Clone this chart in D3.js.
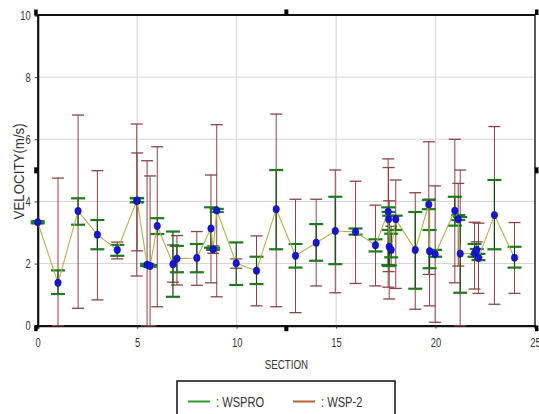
<!DOCTYPE html>
<html><head><meta charset="utf-8">
<script src="https://cdn.jsdelivr.net/npm/d3@7"></script>
<style>
body{margin:0;background:#fff;}
svg{display:block;}
text{font-family:"Liberation Sans",Arial,sans-serif;fill:#333;}
</style></head>
<body><svg id="c" width="539" height="414"></svg>
<script>
const sections = [0.0,1.02,2.03,3.0,4.0,4.98,5.0,5.5,5.65,6.01,6.8,7.0,8.0,8.71,8.82,9.0,9.98,11.0,11.99,12.96,14.0,14.96,15.98,16.98,17.62,17.64,17.67,17.77,18.0,18.98,19.66,19.70,19.98,20.97,21.14,21.24,21.96,22.07,22.16,22.96,23.97];
const velocity = [3.33,1.38,3.69,2.93,2.44,4.01,4.03,1.96,1.92,3.21,1.98,2.16,2.18,3.13,2.46,3.71,2.01,1.77,3.75,2.25,2.67,3.05,3.02,2.59,3.67,3.43,2.54,2.44,3.43,2.44,3.90,2.40,2.30,3.70,3.43,2.32,2.33,2.44,2.18,3.56,2.19];
const wsproLow  = [3.30,1.02,3.25,2.46,2.25,3.97,3.98,1.92,1.90,2.95,0.93,1.72,1.72,2.51,2.44,3.66,1.31,1.34,2.46,1.87,2.09,1.98,2.93,2.39,1.95,3.08,1.92,2.20,3.08,1.19,3.75,1.85,2.22,3.22,3.40,1.06,2.22,2.31,2.11,2.46,1.87];
const wsproHigh = [3.36,1.78,4.10,3.40,2.60,4.11,4.10,1.99,1.95,3.46,3.03,2.57,2.63,3.81,2.51,3.76,2.68,2.22,5.01,2.63,3.27,4.15,3.13,2.78,3.81,3.66,3.54,2.96,3.54,3.66,4.05,3.08,2.44,4.15,3.56,3.50,2.63,2.47,2.31,4.69,2.54];
const wsp2Low   = [3.28,0.00,0.56,0.83,2.15,1.60,2.41,0.00,0.00,0.61,1.40,1.31,1.30,1.38,2.33,0.93,1.85,0.64,0.61,0.42,1.28,1.06,1.36,1.28,1.24,1.74,0.86,1.95,1.20,0.53,1.65,0.64,0.11,1.38,1.92,0.00,1.18,2.20,1.04,0.69,1.04];
const wsp2High  = [3.38,4.75,6.78,4.99,2.69,6.49,5.56,5.31,4.82,5.76,2.60,2.90,3.03,4.85,2.57,6.47,2.15,2.89,6.81,4.07,4.07,5.01,4.65,3.88,5.37,5.09,4.02,3.20,4.69,4.28,5.92,4.07,4.50,6.00,4.58,5.01,3.33,2.70,3.30,6.41,3.32];
const xTicks = [0,5,10,15,20,25];
const yTicks = [0,2,4,6,8,10];
const xTitle = "SECTION";
const yTitle = "VELOCITY(m/s)";
const legendLabels = [": WSPRO", ": WSP-2"];
const legendColors = ["#2a9a2a", "#b8662e"];

const pts = sections.map((s,i)=>({s, v:velocity[i], gl:wsproLow[i], gh:wsproHigh[i], bl:wsp2Low[i], bh:wsp2High[i]}));

const svg = d3.select("#c");
const L=37.7, R=535, T=15, B=325.7;
const x = d3.scaleLinear().domain([0,25]).range([L,R]);
const y = d3.scaleLinear().domain([0,10]).range([B,T]);

function narrow(sel, f){
  sel.each(function(){
    const n=this.getComputedTextLength();
    d3.select(this).attr("textLength", n*f).attr("lengthAdjust","spacingAndGlyphs");
  });
}

// grid
svg.append("g").selectAll("line").data(xTicks.slice(1,-1)).join("line")
  .attr("x1",d=>x(d)).attr("x2",d=>x(d)).attr("y1",T).attr("y2",B)
  .attr("stroke","#d4d4d4").attr("stroke-width",1);
svg.append("g").selectAll("line").data(yTicks.slice(1,-1)).join("line")
  .attr("x1",L).attr("x2",R).attr("y1",d=>y(d)).attr("y2",d=>y(d))
  .attr("stroke","#d4d4d4").attr("stroke-width",1);

// axes
const xAxis = svg.append("g").attr("transform",`translate(0,${B})`)
  .call(d3.axisBottom(x).tickValues(xTicks).tickSize(3).tickPadding(9).tickFormat(d3.format("d")));
const yAxis = svg.append("g").attr("transform",`translate(${L},0)`)
  .call(d3.axisLeft(y).tickValues(yTicks).tickSize(3).tickPadding(4).tickFormat(d3.format("d")));
[xAxis,yAxis].forEach(g=>{
  g.select(".domain").attr("stroke","#111").attr("stroke-width",2.2);
  g.selectAll(".tick line").attr("stroke","#333");
  g.selectAll(".tick text").attr("font-size",12.5).attr("fill","#333")
   .attr("font-family",'"Liberation Sans",Arial,sans-serif');
});
narrow(xAxis.selectAll(".tick text"),0.75);
narrow(yAxis.selectAll(".tick text"),0.75);
// top and right frame
svg.append("line").attr("x1",L).attr("x2",R).attr("y1",T).attr("y2",T).attr("stroke","#111").attr("stroke-width",2.2);
svg.append("line").attr("x1",R).attr("x2",R).attr("y1",T).attr("y2",B).attr("stroke","#222").attr("stroke-width",1.5);

// handles
const handles = [[L,T,-1,-1],[(L+R)/2,T,0,-1],[R,T,1,-1],[L,(T+B)/2,-1,0],[R,(T+B)/2,1,0],[L,B,-1,1],[(L+R)/2,B,0,1],[R,B,1,1]];
svg.append("g").selectAll("rect").data(handles).join("rect")
  .attr("x",d=>d[2]<0?d[0]-3.5:(d[2]>0?d[0]:d[0]-2))
  .attr("y",d=>d[3]<0?d[1]-5.5:(d[3]>0?d[1]:d[1]-3))
  .attr("width",d=>d[2]===0?4:3.5).attr("height",d=>d[3]===0?6:5.5)
  .attr("fill","#000");

const cap=6;
// WSP-2 bars
const gb = svg.append("g").attr("stroke","#8a4444").attr("stroke-width",1).attr("fill","none");
pts.forEach(p=>{
  gb.append("line").attr("x1",x(p.s)).attr("x2",x(p.s)).attr("y1",y(p.bl)).attr("y2",y(p.bh));
  gb.append("line").attr("x1",x(p.s)-cap).attr("x2",x(p.s)+cap).attr("y1",y(p.bl)).attr("y2",y(p.bl)).attr("stroke-width",1.3);
  gb.append("line").attr("x1",x(p.s)-cap).attr("x2",x(p.s)+cap).attr("y1",y(p.bh)).attr("y2",y(p.bh)).attr("stroke-width",1.3);
});
// WSPRO bars
const gg = svg.append("g").attr("stroke","#1d7a1d").attr("fill","none");
pts.forEach(p=>{
  gg.append("line").attr("x1",x(p.s)).attr("x2",x(p.s)).attr("y1",y(p.gl)).attr("y2",y(p.gh)).attr("stroke","#104a10").attr("stroke-width",1.2);
  gg.append("line").attr("x1",x(p.s)-7).attr("x2",x(p.s)+7).attr("y1",y(p.gl)).attr("y2",y(p.gl)).attr("stroke-width",2.2);
  gg.append("line").attr("x1",x(p.s)-7).attr("x2",x(p.s)+7).attr("y1",y(p.gh)).attr("y2",y(p.gh)).attr("stroke-width",2.2);
});
// connecting line
svg.append("path").datum(pts)
  .attr("d",d3.line().x(d=>x(d.s)).y(d=>y(d.v)))
  .attr("fill","none").attr("stroke","#b4b04c").attr("stroke-width",1.1);
// dots
svg.append("g").selectAll("ellipse").data(pts).join("ellipse")
  .attr("cx",d=>x(d.s)).attr("cy",d=>y(d.v)).attr("rx",3.2).attr("ry",3.7)
  .attr("fill","#1515e0").attr("stroke","#0a0a90").attr("stroke-width",0.6);

// titles
narrow(svg.append("text").attr("x",(L+R)/2).attr("y",369).attr("text-anchor","middle").attr("font-size",12.5).text(xTitle),0.78);
narrow(svg.append("text").attr("transform",`translate(24,${(T+B)/2+1}) rotate(-90)`).attr("text-anchor","middle").attr("font-size",14).text(yTitle),0.95);

// legend
const lg = svg.append("g");
lg.append("rect").attr("x",177).attr("y",381).attr("width",218).attr("height",40).attr("fill","#fff").attr("stroke","#111").attr("stroke-width",1.5);
legendLabels.forEach((t,i)=>{
  const lx = 188 + i*105;
  lg.append("line").attr("x1",lx).attr("x2",lx+22).attr("y1",401.5).attr("y2",401.5).attr("stroke",legendColors[i]).attr("stroke-width",2);
  narrow(lg.append("text").attr("x",lx+28).attr("y",407).attr("font-size",15).attr("fill","#222").text(t),0.74);
});
</script></body></html>
